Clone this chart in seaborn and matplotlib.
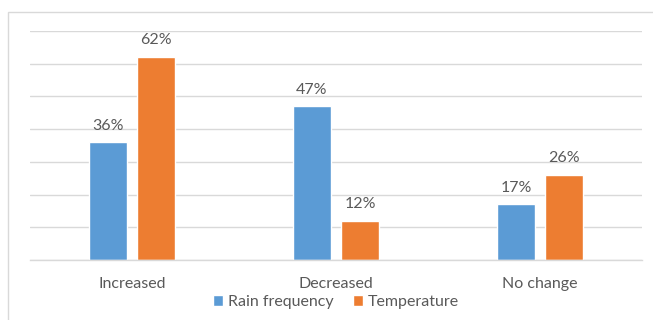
import matplotlib
matplotlib.use("Agg")
import matplotlib.pyplot as plt
from matplotlib.patches import Rectangle
import seaborn as sns
import pandas as pd

categories = ["Increased", "Decreased", "No change"]
series_names = ["Rain frequency", "Temperature"]
rain_frequency = [36, 47, 17]
temperature = [62, 12, 26]
colors = ["#5B9BD5", "#ED7D31"]

df = pd.DataFrame({
    "category": categories * 2,
    "series": [series_names[0]] * 3 + [series_names[1]] * 3,
    "value": rain_frequency + temperature,
})

sns.set_theme(style="white")
plt.rcParams["font.family"] = ["Lato", "DejaVu Sans"]
text_color = "#595959"
grid_color = "#D9D9D9"
fs = 11.5

fig = plt.figure(figsize=(6.53, 3.2), dpi=100)
ax = fig.add_axes([30 / 653, 1 - 260 / 320, 612 / 653, 229 / 320])

sns.barplot(data=df, x="category", y="value", hue="series", order=categories,
            hue_order=series_names, palette=colors, width=0.47, gap=0.22,
            saturation=1, ax=ax, legend=True)

ax.set_ylim(0, 70)
ax.set_xlim(-0.5, 2.5)
ax.set_yticks(range(0, 71, 10))
ax.yaxis.grid(True, color=grid_color, linewidth=1)
ax.set_axisbelow(True)
ax.tick_params(axis="y", left=False, labelleft=False)
ax.tick_params(axis="x", bottom=False, labelsize=fs, colors=text_color, pad=6)
for s in ["top", "right", "left"]:
    ax.spines[s].set_visible(False)
ax.spines["bottom"].set_color(grid_color)
ax.spines["bottom"].set_linewidth(1)
ax.set_xlabel("")
ax.set_ylabel("")

for container in ax.containers:
    ax.bar_label(container, labels=[f"{int(v)}%" for v in container.datavalues],
                 padding=7, fontsize=fs, color=text_color)

ax.legend(loc="upper center", bbox_to_anchor=(0.5, -0.125), ncol=2, frameon=False,
          fontsize=fs, labelcolor=text_color, handlelength=0.65, handleheight=0.65,
          handletextpad=0.3, columnspacing=1.2, borderaxespad=0)

fig.patches.append(Rectangle((8 / 653, -0.01), 652 / 653 - 8 / 653 + 0.01, 1 - 12 / 320 + 0.01,
                             transform=fig.transFigure, fill=False,
                             edgecolor=grid_color, linewidth=1))

fig.savefig("out.png", dpi=100, facecolor="white")
